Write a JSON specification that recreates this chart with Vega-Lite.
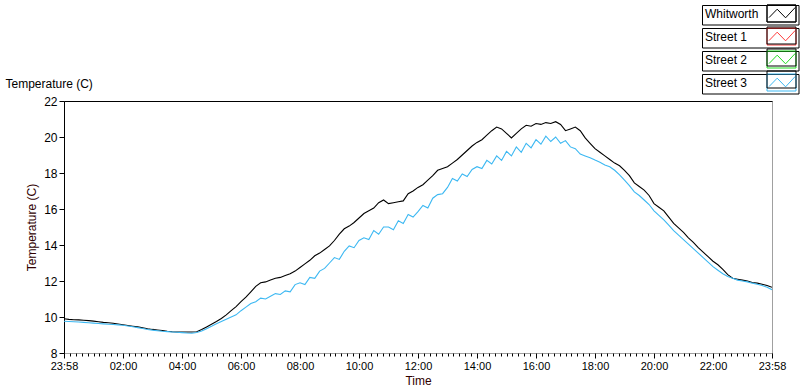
{
  "$schema": "https://vega.github.io/schema/vega-lite/v6.json",
  "width": 708,
  "height": 252,
  "autosize": {"type": "none"},
  "padding": {"left": 64, "top": 101, "right": 28, "bottom": 39},
  "background": "white",
  "config": {"view": {"stroke": "#a0a0a0", "strokeWidth": 1}, "font": "Liberation Sans"},
  "data": {"values": [
    {"m":0,"s":"Whitworth","t":9.90},{"m":10,"s":"Whitworth","t":9.87},{"m":20,"s":"Whitworth","t":9.85},{"m":30,"s":"Whitworth","t":9.84},{"m":40,"s":"Whitworth","t":9.82},{"m":50,"s":"Whitworth","t":9.80},{"m":60,"s":"Whitworth","t":9.77},{"m":70,"s":"Whitworth","t":9.74},{"m":80,"s":"Whitworth","t":9.70},{"m":90,"s":"Whitworth","t":9.68},{"m":100,"s":"Whitworth","t":9.65},{"m":110,"s":"Whitworth","t":9.61},{"m":120,"s":"Whitworth","t":9.57},{"m":130,"s":"Whitworth","t":9.53},{"m":140,"s":"Whitworth","t":9.49},{"m":150,"s":"Whitworth","t":9.45},{"m":160,"s":"Whitworth","t":9.40},{"m":170,"s":"Whitworth","t":9.35},{"m":180,"s":"Whitworth","t":9.31},{"m":190,"s":"Whitworth","t":9.28},{"m":200,"s":"Whitworth","t":9.25},{"m":210,"s":"Whitworth","t":9.21},{"m":220,"s":"Whitworth","t":9.18},{"m":230,"s":"Whitworth","t":9.17},{"m":240,"s":"Whitworth","t":9.17},{"m":250,"s":"Whitworth","t":9.17},{"m":260,"s":"Whitworth","t":9.17},{"m":270,"s":"Whitworth","t":9.18},{"m":280,"s":"Whitworth","t":9.30},{"m":290,"s":"Whitworth","t":9.45},{"m":300,"s":"Whitworth","t":9.60},{"m":310,"s":"Whitworth","t":9.75},{"m":320,"s":"Whitworth","t":9.92},{"m":330,"s":"Whitworth","t":10.12},{"m":340,"s":"Whitworth","t":10.35},{"m":350,"s":"Whitworth","t":10.58},{"m":360,"s":"Whitworth","t":10.85},{"m":370,"s":"Whitworth","t":11.10},{"m":380,"s":"Whitworth","t":11.40},{"m":390,"s":"Whitworth","t":11.70},{"m":400,"s":"Whitworth","t":11.90},{"m":410,"s":"Whitworth","t":11.95},{"m":420,"s":"Whitworth","t":12.05},{"m":430,"s":"Whitworth","t":12.15},{"m":440,"s":"Whitworth","t":12.20},{"m":450,"s":"Whitworth","t":12.30},{"m":460,"s":"Whitworth","t":12.40},{"m":470,"s":"Whitworth","t":12.55},{"m":480,"s":"Whitworth","t":12.75},{"m":490,"s":"Whitworth","t":12.95},{"m":500,"s":"Whitworth","t":13.15},{"m":510,"s":"Whitworth","t":13.40},{"m":520,"s":"Whitworth","t":13.55},{"m":530,"s":"Whitworth","t":13.75},{"m":540,"s":"Whitworth","t":13.95},{"m":550,"s":"Whitworth","t":14.25},{"m":560,"s":"Whitworth","t":14.60},{"m":570,"s":"Whitworth","t":14.90},{"m":580,"s":"Whitworth","t":15.05},{"m":590,"s":"Whitworth","t":15.25},{"m":600,"s":"Whitworth","t":15.50},{"m":610,"s":"Whitworth","t":15.75},{"m":620,"s":"Whitworth","t":15.90},{"m":630,"s":"Whitworth","t":16.05},{"m":640,"s":"Whitworth","t":16.35},{"m":650,"s":"Whitworth","t":16.50},{"m":660,"s":"Whitworth","t":16.30},{"m":670,"s":"Whitworth","t":16.35},{"m":680,"s":"Whitworth","t":16.40},{"m":690,"s":"Whitworth","t":16.45},{"m":700,"s":"Whitworth","t":16.85},{"m":710,"s":"Whitworth","t":17.00},{"m":720,"s":"Whitworth","t":17.20},{"m":730,"s":"Whitworth","t":17.35},{"m":740,"s":"Whitworth","t":17.60},{"m":750,"s":"Whitworth","t":17.85},{"m":760,"s":"Whitworth","t":18.15},{"m":770,"s":"Whitworth","t":18.25},{"m":780,"s":"Whitworth","t":18.35},{"m":790,"s":"Whitworth","t":18.55},{"m":800,"s":"Whitworth","t":18.75},{"m":810,"s":"Whitworth","t":19.00},{"m":820,"s":"Whitworth","t":19.25},{"m":830,"s":"Whitworth","t":19.50},{"m":840,"s":"Whitworth","t":19.70},{"m":850,"s":"Whitworth","t":19.85},{"m":860,"s":"Whitworth","t":20.10},{"m":870,"s":"Whitworth","t":20.35},{"m":880,"s":"Whitworth","t":20.55},{"m":890,"s":"Whitworth","t":20.45},{"m":900,"s":"Whitworth","t":20.20},{"m":910,"s":"Whitworth","t":19.95},{"m":920,"s":"Whitworth","t":20.20},{"m":930,"s":"Whitworth","t":20.45},{"m":940,"s":"Whitworth","t":20.65},{"m":950,"s":"Whitworth","t":20.60},{"m":960,"s":"Whitworth","t":20.75},{"m":970,"s":"Whitworth","t":20.70},{"m":980,"s":"Whitworth","t":20.80},{"m":990,"s":"Whitworth","t":20.75},{"m":1000,"s":"Whitworth","t":20.85},{"m":1010,"s":"Whitworth","t":20.70},{"m":1020,"s":"Whitworth","t":20.35},{"m":1030,"s":"Whitworth","t":20.45},{"m":1040,"s":"Whitworth","t":20.55},{"m":1050,"s":"Whitworth","t":20.35},{"m":1060,"s":"Whitworth","t":19.95},{"m":1070,"s":"Whitworth","t":19.65},{"m":1080,"s":"Whitworth","t":19.35},{"m":1090,"s":"Whitworth","t":19.15},{"m":1100,"s":"Whitworth","t":18.95},{"m":1110,"s":"Whitworth","t":18.75},{"m":1120,"s":"Whitworth","t":18.55},{"m":1130,"s":"Whitworth","t":18.40},{"m":1140,"s":"Whitworth","t":18.15},{"m":1150,"s":"Whitworth","t":17.85},{"m":1160,"s":"Whitworth","t":17.45},{"m":1170,"s":"Whitworth","t":17.25},{"m":1180,"s":"Whitworth","t":17.05},{"m":1190,"s":"Whitworth","t":16.75},{"m":1200,"s":"Whitworth","t":16.30},{"m":1210,"s":"Whitworth","t":16.10},{"m":1220,"s":"Whitworth","t":15.90},{"m":1230,"s":"Whitworth","t":15.55},{"m":1240,"s":"Whitworth","t":15.20},{"m":1250,"s":"Whitworth","t":14.95},{"m":1260,"s":"Whitworth","t":14.70},{"m":1270,"s":"Whitworth","t":14.40},{"m":1280,"s":"Whitworth","t":14.15},{"m":1290,"s":"Whitworth","t":13.85},{"m":1300,"s":"Whitworth","t":13.60},{"m":1310,"s":"Whitworth","t":13.35},{"m":1320,"s":"Whitworth","t":13.10},{"m":1330,"s":"Whitworth","t":12.90},{"m":1340,"s":"Whitworth","t":12.65},{"m":1350,"s":"Whitworth","t":12.35},{"m":1360,"s":"Whitworth","t":12.15},{"m":1370,"s":"Whitworth","t":12.10},{"m":1380,"s":"Whitworth","t":12.05},{"m":1390,"s":"Whitworth","t":12.00},{"m":1400,"s":"Whitworth","t":11.92},{"m":1410,"s":"Whitworth","t":11.88},{"m":1420,"s":"Whitworth","t":11.82},{"m":1430,"s":"Whitworth","t":11.75},{"m":1440,"s":"Whitworth","t":11.65},
    {"m":0,"s":"Street 3","t":9.76},{"m":10,"s":"Street 3","t":9.75},{"m":20,"s":"Street 3","t":9.74},{"m":30,"s":"Street 3","t":9.72},{"m":40,"s":"Street 3","t":9.70},{"m":50,"s":"Street 3","t":9.68},{"m":60,"s":"Street 3","t":9.66},{"m":70,"s":"Street 3","t":9.64},{"m":80,"s":"Street 3","t":9.62},{"m":90,"s":"Street 3","t":9.60},{"m":100,"s":"Street 3","t":9.58},{"m":110,"s":"Street 3","t":9.56},{"m":120,"s":"Street 3","t":9.54},{"m":130,"s":"Street 3","t":9.50},{"m":140,"s":"Street 3","t":9.46},{"m":150,"s":"Street 3","t":9.41},{"m":160,"s":"Street 3","t":9.36},{"m":170,"s":"Street 3","t":9.31},{"m":180,"s":"Street 3","t":9.27},{"m":190,"s":"Street 3","t":9.24},{"m":200,"s":"Street 3","t":9.21},{"m":210,"s":"Street 3","t":9.19},{"m":220,"s":"Street 3","t":9.17},{"m":230,"s":"Street 3","t":9.15},{"m":240,"s":"Street 3","t":9.13},{"m":250,"s":"Street 3","t":9.11},{"m":260,"s":"Street 3","t":9.10},{"m":270,"s":"Street 3","t":9.14},{"m":280,"s":"Street 3","t":9.22},{"m":290,"s":"Street 3","t":9.35},{"m":300,"s":"Street 3","t":9.48},{"m":310,"s":"Street 3","t":9.62},{"m":320,"s":"Street 3","t":9.75},{"m":330,"s":"Street 3","t":9.88},{"m":340,"s":"Street 3","t":10.00},{"m":350,"s":"Street 3","t":10.12},{"m":360,"s":"Street 3","t":10.35},{"m":370,"s":"Street 3","t":10.55},{"m":380,"s":"Street 3","t":10.75},{"m":390,"s":"Street 3","t":10.85},{"m":400,"s":"Street 3","t":11.05},{"m":410,"s":"Street 3","t":11.00},{"m":420,"s":"Street 3","t":11.15},{"m":430,"s":"Street 3","t":11.30},{"m":440,"s":"Street 3","t":11.25},{"m":450,"s":"Street 3","t":11.45},{"m":460,"s":"Street 3","t":11.40},{"m":470,"s":"Street 3","t":11.80},{"m":480,"s":"Street 3","t":11.90},{"m":490,"s":"Street 3","t":11.80},{"m":500,"s":"Street 3","t":12.20},{"m":510,"s":"Street 3","t":12.15},{"m":520,"s":"Street 3","t":12.55},{"m":530,"s":"Street 3","t":12.70},{"m":540,"s":"Street 3","t":13.00},{"m":550,"s":"Street 3","t":13.30},{"m":560,"s":"Street 3","t":13.20},{"m":570,"s":"Street 3","t":13.65},{"m":580,"s":"Street 3","t":13.95},{"m":590,"s":"Street 3","t":13.85},{"m":600,"s":"Street 3","t":14.25},{"m":610,"s":"Street 3","t":14.40},{"m":620,"s":"Street 3","t":14.30},{"m":630,"s":"Street 3","t":14.80},{"m":640,"s":"Street 3","t":14.60},{"m":650,"s":"Street 3","t":15.00},{"m":660,"s":"Street 3","t":15.00},{"m":670,"s":"Street 3","t":14.85},{"m":680,"s":"Street 3","t":15.35},{"m":690,"s":"Street 3","t":15.20},{"m":700,"s":"Street 3","t":15.70},{"m":710,"s":"Street 3","t":15.55},{"m":720,"s":"Street 3","t":15.85},{"m":730,"s":"Street 3","t":16.20},{"m":740,"s":"Street 3","t":16.05},{"m":750,"s":"Street 3","t":16.60},{"m":760,"s":"Street 3","t":16.80},{"m":770,"s":"Street 3","t":16.85},{"m":780,"s":"Street 3","t":17.20},{"m":790,"s":"Street 3","t":17.70},{"m":800,"s":"Street 3","t":17.55},{"m":810,"s":"Street 3","t":17.95},{"m":820,"s":"Street 3","t":17.80},{"m":830,"s":"Street 3","t":18.20},{"m":840,"s":"Street 3","t":18.35},{"m":850,"s":"Street 3","t":18.25},{"m":860,"s":"Street 3","t":18.70},{"m":870,"s":"Street 3","t":18.50},{"m":880,"s":"Street 3","t":18.95},{"m":890,"s":"Street 3","t":18.70},{"m":900,"s":"Street 3","t":19.20},{"m":910,"s":"Street 3","t":18.95},{"m":920,"s":"Street 3","t":19.45},{"m":930,"s":"Street 3","t":19.15},{"m":940,"s":"Street 3","t":19.65},{"m":950,"s":"Street 3","t":19.40},{"m":960,"s":"Street 3","t":19.85},{"m":970,"s":"Street 3","t":19.60},{"m":980,"s":"Street 3","t":20.05},{"m":990,"s":"Street 3","t":19.75},{"m":1000,"s":"Street 3","t":20.00},{"m":1010,"s":"Street 3","t":19.65},{"m":1020,"s":"Street 3","t":19.80},{"m":1030,"s":"Street 3","t":19.45},{"m":1040,"s":"Street 3","t":19.35},{"m":1050,"s":"Street 3","t":19.05},{"m":1060,"s":"Street 3","t":18.95},{"m":1070,"s":"Street 3","t":18.85},{"m":1080,"s":"Street 3","t":18.72},{"m":1090,"s":"Street 3","t":18.60},{"m":1100,"s":"Street 3","t":18.45},{"m":1110,"s":"Street 3","t":18.35},{"m":1120,"s":"Street 3","t":18.15},{"m":1130,"s":"Street 3","t":17.90},{"m":1140,"s":"Street 3","t":17.60},{"m":1150,"s":"Street 3","t":17.30},{"m":1160,"s":"Street 3","t":16.95},{"m":1170,"s":"Street 3","t":16.75},{"m":1180,"s":"Street 3","t":16.50},{"m":1190,"s":"Street 3","t":16.25},{"m":1200,"s":"Street 3","t":15.90},{"m":1210,"s":"Street 3","t":15.65},{"m":1220,"s":"Street 3","t":15.40},{"m":1230,"s":"Street 3","t":15.10},{"m":1240,"s":"Street 3","t":14.80},{"m":1250,"s":"Street 3","t":14.55},{"m":1260,"s":"Street 3","t":14.30},{"m":1270,"s":"Street 3","t":14.05},{"m":1280,"s":"Street 3","t":13.80},{"m":1290,"s":"Street 3","t":13.55},{"m":1300,"s":"Street 3","t":13.30},{"m":1310,"s":"Street 3","t":13.05},{"m":1320,"s":"Street 3","t":12.80},{"m":1330,"s":"Street 3","t":12.60},{"m":1340,"s":"Street 3","t":12.40},{"m":1350,"s":"Street 3","t":12.25},{"m":1360,"s":"Street 3","t":12.15},{"m":1370,"s":"Street 3","t":12.05},{"m":1380,"s":"Street 3","t":12.00},{"m":1390,"s":"Street 3","t":11.95},{"m":1400,"s":"Street 3","t":11.88},{"m":1410,"s":"Street 3","t":11.82},{"m":1420,"s":"Street 3","t":11.75},{"m":1430,"s":"Street 3","t":11.65},{"m":1440,"s":"Street 3","t":11.52}
  ]},
  "layer": [
    {
      "mark": {"type": "line", "strokeWidth": 1.1, "clip": true},
      "encoding": {
        "x": {"field": "m", "type": "quantitative", "scale": {"domain": [0, 1440], "nice": false, "zero": false},
          "axis": {"orient": "bottom", "values": [0,120,240,360,480,600,720,840,960,1080,1200,1320,1440],
            "labelExpr": "datum.value == 0 || datum.value == 1440 ? '23:58' : (datum.value < 600 ? '0' : '') + (datum.value / 60) + ':00'",
            "tickSize": 5, "tickColor": "black", "domainColor": "#a0a0a0", "labelColor": "black", "labelFont": "Liberation Sans", "labelFontSize": 11, "labelPadding": 2, "labelFlush": false, "labelOverlap": false,
            "grid": false, "title": "Time", "titleFont": "Liberation Sans", "titleFontSize": 12, "titleFontWeight": "normal", "titleColor": "#300000", "titlePadding": 4}},
        "y": {"field": "t", "type": "quantitative", "scale": {"domain": [8, 22], "nice": false, "zero": false},
          "axis": {"values": [8,10,12,14,16,18,20,22], "tickSize": 5, "tickColor": "black", "domainColor": "black", "labelColor": "black", "labelFont": "Liberation Sans", "labelFontSize": 12, "labelPadding": 2, "grid": false,
            "title": "Temperature (C)", "titleFont": "Liberation Sans", "titleFontSize": 12, "titleFontWeight": "normal", "titleColor": "#300000", "titlePadding": 5}},
        "color": {"field": "s", "type": "nominal",
          "scale": {"domain": ["Whitworth", "Street 1", "Street 2", "Street 3"], "range": ["#000000", "#ff3a3a", "#22dd22", "#3cb8f2"]},
          "legend": {"orient": "none", "legendX": 638, "legendY": -96, "title": null,
            "symbolType": "M-1.8125,-1.0625H1.8125V1.0625H-1.8125ZM-1.56,0.51L-0.54,-0.54L0.51,0.54L1.72,-0.76", "symbolSize": 256, "symbolStrokeWidth": 1, "symbolFillColor": "transparent",
            "labelFont": "Liberation Sans", "labelFontSize": 12, "labelColor": "black", "rowPadding": 0,
            "encoding": {
              "symbols": {"x": {"value": 79.5}, "fill": {"value": "transparent"}, "strokeWidth": {"value": 1}},
              "labels": {"x": {"value": 3}},
              "entries": {"width": {"value": 60}, "height": {"value": 17}, "stroke": {"value": "black"}, "strokeWidth": {"value": 1}, "fill": {"value": "white"}}
            }}}
      }
    },
    {
      "transform": [{"filter": "false"}],
      "mark": {"type": "line"},
      "encoding": {
        "x": {"field": "m", "type": "quantitative",
          "axis": {"orient": "bottom", "values": [0,12,24,36,48,60,72,84,96,108,120,132,144,156,168,180,192,204,216,228,240,252,264,276,288,300,312,324,336,348,360,372,384,396,408,420,432,444,456,468,480,492,504,516,528,540,552,564,576,588,600,612,624,636,648,660,672,684,696,708,720,732,744,756,768,780,792,804,816,828,840,852,864,876,888,900,912,924,936,948,960,972,984,996,1008,1020,1032,1044,1056,1068,1080,1092,1104,1116,1128,1140,1152,1164,1176,1188,1200,1212,1224,1236,1248,1260,1272,1284,1296,1308,1320,1332,1344,1356,1368,1380,1392,1404,1416,1428,1440],
            "tickSize": 3, "tickColor": "black", "labels": false, "domain": false, "grid": false, "title": null}},
        "y": {"field": "t", "type": "quantitative", "axis": null},
        "stroke": {"field": "s", "type": "nominal",
          "scale": {"domain": ["Whitworth", "Street 1", "Street 2", "Street 3"], "range": ["#000000", "#000000", "#000000", "#000000"]},
          "legend": {"orient": "none", "legendX": 638, "legendY": -96, "title": null,
            "symbolType": "M-1.8125,-1.0625H1.8125V1.0625H-1.8125Z", "symbolSize": 256, "symbolStrokeWidth": 1, "symbolFillColor": "transparent",
            "labelExpr": "''", "labelFont": "Liberation Sans", "labelFontSize": 12, "rowPadding": 1,
            "encoding": {
              "symbols": {"x": {"value": 79.5}, "fill": {"value": "transparent"}, "strokeWidth": {"value": 1}},
              "labels": {"x": {"value": 3}},
              "entries": {"width": {"value": 60}, "height": {"value": 17}, "fill": {"value": "transparent"}}
            }}}
      }
    },
    {
      "mark": {"type": "line", "strokeOpacity": 0},
      "encoding": {
        "x": {"field": "m", "type": "quantitative",
          "axis": {"orient": "top", "ticks": false, "labels": false, "domainColor": "black", "grid": false,
            "title": "Temperature (C)", "titleAngle": 0, "titleAlign": "left", "titleBaseline": "alphabetic", "titleX": -59, "titleY": -14,
            "titleFont": "Liberation Sans", "titleFontSize": 12, "titleFontWeight": "normal", "titleColor": "black"}},
        "y": {"field": "t", "type": "quantitative", "axis": null},
        "detail": {"field": "s", "type": "nominal"}
      }
    }
  ],
  "resolve": {"legend": {"color": "independent", "stroke": "independent"}, "scale": {"stroke": "independent"}, "axis": {"x": "independent", "y": "independent"}}
}
